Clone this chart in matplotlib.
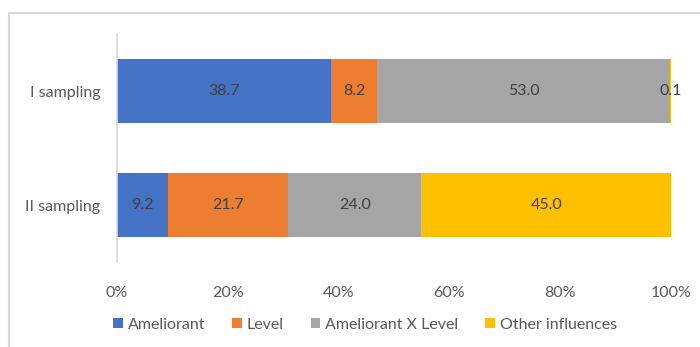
import numpy as np
import matplotlib.pyplot as plt
from matplotlib.patches import Rectangle

plt.rcParams["font.family"] = ["Lato", "DejaVu Sans"]

categories = ["I sampling", "II sampling"]
series = ["Ameliorant", "Level", "Ameliorant X Level", "Other influences"]
ameliorant = [38.7, 9.2]
level = [8.2, 21.7]
interaction = [53.0, 24.0]
other = [0.1, 45.0]
colors = ["#4472C4", "#ED7D31", "#A5A5A5", "#FFC000"]
xticks = [0, 20, 40, 60, 80, 100]

W, H = 700, 347
fig = plt.figure(figsize=(W / 100, H / 100), dpi=100)
ax = fig.add_axes([117 / W, 1 - 262 / H, (671 - 117) / W, (262 - 34) / H])

# outer chart frame (runs off the right and bottom edges)
fig.patches.append(Rectangle((9 / W, -0.1), 1.2, 1 - 13 / H + 0.1, transform=fig.transFigure,
                             fill=False, edgecolor="#d9d9d9", linewidth=1.5))

values = np.array([ameliorant, level, interaction, other])
pct = values / values.sum(axis=0) * 100
y = np.array([1, 0])
left = np.zeros(len(categories))
for i, name in enumerate(series):
    ax.barh(y, pct[i], left=left, height=0.57, color=colors[i], label=name)
    for yi, l, w, v in zip(y, left, pct[i], values[i]):
        ax.text(l + w / 2, yi, f"{v:.1f}", ha="center", va="center", fontsize=11.5, color="#404040")
    left += pct[i]

ax.set_xlim(0, 100)
ax.set_ylim(-0.5, 1.5)
ax.set_yticks(y)
ax.set_yticklabels(categories)
ax.set_xticks(xticks)
ax.set_xticklabels([f"{t}%" for t in xticks])
ax.tick_params(axis="both", length=0, labelsize=11.5, labelcolor="#595959")
ax.tick_params(axis="x", pad=17)
ax.tick_params(axis="y", pad=12)
for s in ["top", "right", "bottom"]:
    ax.spines[s].set_visible(False)
ax.spines["left"].set_color("#d9d9d9")
ax.spines["left"].set_linewidth(1.2)

leg = fig.legend(loc="center", bbox_to_anchor=(365 / W, 1 - 325 / H), ncols=4, frameon=False,
                 fontsize=11.5, handlelength=0.6, handleheight=0.6, handletextpad=0.3,
                 columnspacing=1.7, labelcolor="#595959")

fig.savefig("out.png", dpi=100)
